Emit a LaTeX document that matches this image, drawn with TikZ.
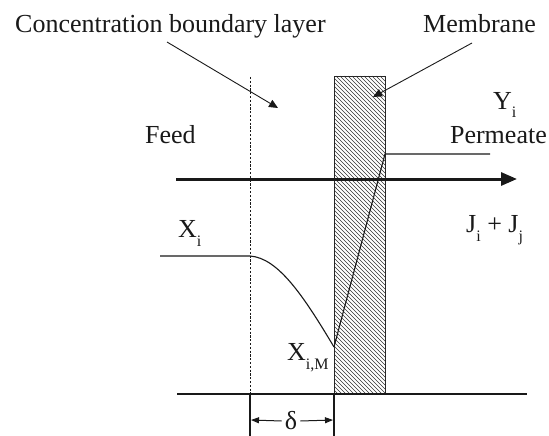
\documentclass[tikz,border=0pt]{standalone}
\usepackage{fontspec}
\setmainfont{Liberation Serif}
\usetikzlibrary{arrows.meta}
\newcommand{\lowsub}[2][9pt]{\raisebox{-#1}{\fontsize{16}{16}\selectfont #2}}
\begin{document}
\begin{tikzpicture}[x=1pt,y=-1pt,
  lbl/.style={inner sep=0pt,font=\fontsize{26}{30}\selectfont,text=black!90},
  thinline/.style={line width=1.1pt,draw=black!90},
  leader/.style={line width=0.9pt,draw=black!90,-{Triangle[length=9pt,width=8pt]}},
  hatch/.style={line width=0.6pt,draw=black!80},
  mainarrow/.style={line width=3pt,draw=black!90,-{Triangle[length=16pt,width=13pt]}},
  dimarrow/.style={line width=1pt,draw=black!90,-{Triangle[length=8pt,width=6pt]}},
  dashedline/.style={line width=1pt,draw=black!90,dash pattern=on 2.2pt off 1.6pt}]
\useasboundingbox (0,0) rectangle (549,436);

% membrane hatching
\begin{scope}
  \clip (334,76) rectangle (385,394);
  \foreach \k in {12,16,...,388} \draw[hatch] (\k,76) -- ++(318,318);
\end{scope}
\node[draw=black!85,line width=0.9pt,minimum width=51pt,minimum height=318pt,anchor=north west,inner sep=0pt] (memb) at (334,76) {};

% key coordinates
\coordinate (dtop) at (250,77);
\coordinate (dbot) at (250,394);
\coordinate (dend) at (250,436);
\coordinate (mbot) at (334,394);
\coordinate (mend) at (334,436);
\coordinate (bl) at (177,394);
\coordinate (br) at (527,394);
\coordinate (xl) at (160,256);
\coordinate (xs) at (250,256);
\coordinate (xm) at (334,347);
\coordinate (yp) at (385,154);
\coordinate (ype) at (490,154);
\coordinate (al) at (176,179);
\coordinate (ar) at (517,179);
\coordinate (cblfoot) at (167,42);
\coordinate (cbltip) at (278,108);
\coordinate (mfoot) at (472,43);
\coordinate (mtip) at (373,97);
\coordinate (dl) at (251,420);
\coordinate (dr) at (333,420);

% boundary layer edge
\draw[dashedline] (dtop) -- (dbot);
\draw[thinline] (dbot) -- (dend);
\draw[thinline] (mbot) -- (mend);
\draw[thinline] (bl) -- (br);

% concentration profile
\draw[thinline] (xl) -- (xs) .. controls (278,258) and (303,295) .. (xm);
\draw[thinline] (xm) -- (yp) -- (ype);

% flux arrow
\draw[mainarrow] (al) -- (ar);

% labels
\node[lbl,anchor=base west] (cbl) at (15,33) {Concentration boundary layer};
\node[lbl,anchor=base west] (membtxt) at (423,33) {Membrane};
\node[lbl,anchor=base west] (feed) at (145,143) {Feed};
\node[lbl,anchor=base east] (perm) at (547,143) {Permeate};
\node[lbl,anchor=base west] (yi) at (493,110) {Y\lowsub[8pt]{i}};
\node[lbl,anchor=base west] (jj) at (466,232) {J\lowsub{i} + J\lowsub{j}};
\node[lbl,anchor=base west] (xi) at (178,237) {X\lowsub{i}};
\node[lbl,anchor=base west] (xim) at (287,360) {X\lowsub{i,M}};
\node[lbl,anchor=center] (delta) at (291,421) {δ};

% leaders
\draw[leader] (cblfoot) -- (cbltip);
\draw[leader] (mfoot) -- (mtip);

% delta dimension
\draw[dimarrow] (delta.west) ++(-3,0) -- (dl);
\draw[dimarrow] (delta.east) ++(3,0) -- (dr);
\end{tikzpicture}
\end{document}
